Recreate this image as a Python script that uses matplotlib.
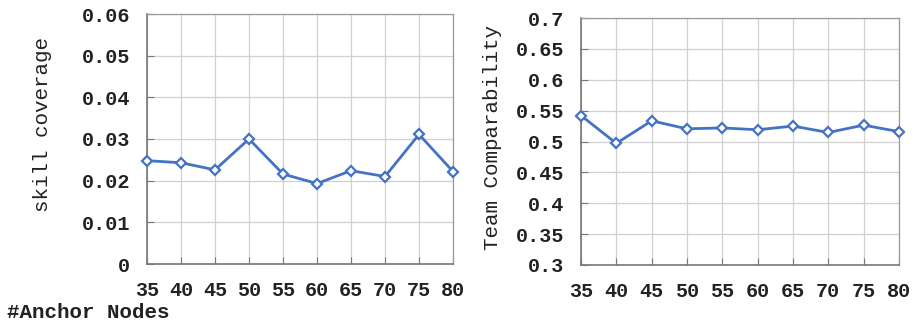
import matplotlib
matplotlib.use("Agg")
import matplotlib.pyplot as plt

# anchor node counts on the x axis
anchor_nodes = [35, 40, 45, 50, 55, 60, 65, 70, 75, 80]

# measured metrics per anchor count
skill_coverage = [0.0248, 0.0243, 0.0226, 0.0300, 0.0216, 0.0193, 0.0224, 0.0210, 0.0311, 0.0222]
team_comparability = [0.542, 0.497, 0.5335, 0.5205, 0.522, 0.519, 0.525, 0.5146, 0.5265, 0.516]

skill_ticks = [0, 0.01, 0.02, 0.03, 0.04, 0.05, 0.06]
skill_labels = ["0", "0.01", "0.02", "0.03", "0.04", "0.05", "0.06"]
team_ticks = [0.3, 0.35, 0.4, 0.45, 0.5, 0.55, 0.6, 0.65, 0.7]
team_labels = ["0.3", "0.35", "0.4", "0.45", "0.5", "0.55", "0.6", "0.65", "0.7"]

LINE = "#4472C4"
MONO = "Liberation Mono"
TEXT = "#222222"

fig = plt.figure(figsize=(9.17, 3.25), dpi=100)
ax1 = fig.add_axes([147 / 917, 1 - 264 / 325, 306 / 917, 250 / 325])
ax2 = fig.add_axes([581 / 917, 1 - 265 / 325, 318 / 917, 247 / 325])


def style(ax, values, yticks, ylabels, ylabel):
    ax.plot(anchor_nodes, values, color=LINE, lw=2.0, marker="D", ms=5.5,
            mfc="white", mec=LINE, mew=1.6, zorder=3, clip_on=False)
    ax.set_xlim(anchor_nodes[0], anchor_nodes[-1])
    ax.set_ylim(yticks[0], yticks[-1])
    ax.set_xticks(anchor_nodes)
    ax.set_xticklabels([str(v) for v in anchor_nodes], fontfamily=MONO,
                       fontsize=14.5, fontweight="bold", color=TEXT)
    ax.set_yticks(yticks)
    ax.set_yticklabels(ylabels, fontfamily=MONO, fontsize=14.5,
                       fontweight="bold", color=TEXT)
    ax.grid(True, color="#d0d0d0", lw=0.9)
    ax.set_axisbelow(True)
    ax.tick_params(direction="in", length=5, color="#777777")
    ax.tick_params(axis="x", pad=12)
    ax.tick_params(axis="y", pad=12)
    for side in ["left", "bottom"]:
        ax.spines[side].set_color("#777777")
        ax.spines[side].set_linewidth(1.2)
    for side in ["top", "right"]:
        ax.spines[side].set_color("#999999")
        ax.spines[side].set_linewidth(0.9)
    ax.set_ylabel(ylabel, fontfamily=MONO, fontsize=15, color=TEXT)


style(ax1, skill_coverage, skill_ticks, skill_labels, "skill coverage")
style(ax2, team_comparability, team_ticks, team_labels, "Team Comparability")
ax1.yaxis.set_label_coords(-0.31, 0.556)
ax2.yaxis.set_label_coords(-0.25, 0.515)

fig.text(7 / 917, 1 - 313 / 325, "#Anchor Nodes", fontfamily=MONO, fontsize=15,
         fontweight="bold", color=TEXT, va="center", ha="left")

fig.savefig("out.png", dpi=100, facecolor="white")
